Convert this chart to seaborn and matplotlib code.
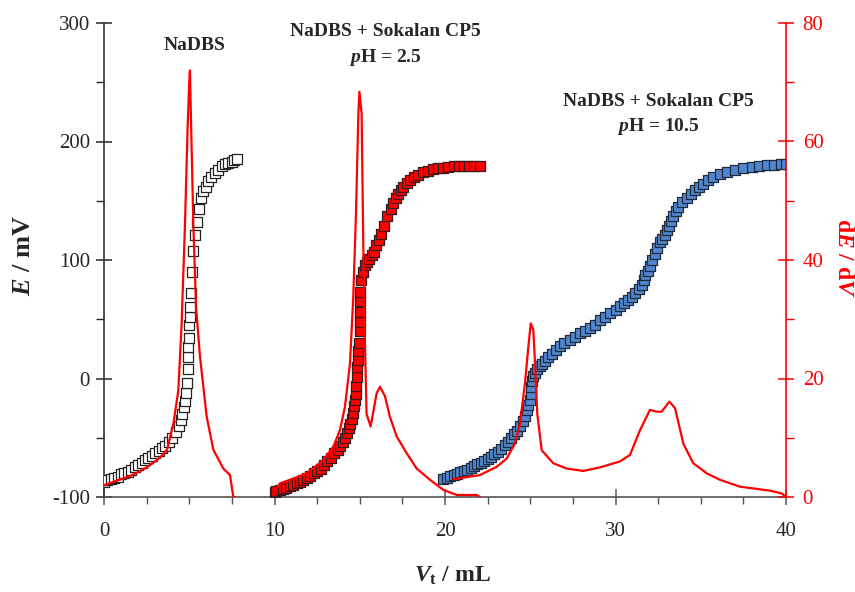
import matplotlib
matplotlib.use("Agg")
import matplotlib.pyplot as plt
import seaborn as sns
import pandas as pd
from matplotlib.ticker import MultipleLocator

# ---------------- data ----------------
v_nadbs = [0, 0.1, 0.2, 0.4, 0.6, 0.8, 1.0, 1.2, 1.4, 1.6, 1.8, 2.0, 2.2, 2.4, 2.6, 2.8,
           3.0, 3.2, 3.4, 3.6, 3.8, 4.0, 4.2, 4.4, 4.5, 4.6, 4.7, 4.75, 4.8, 4.85, 4.9,
           4.92, 4.95, 4.97, 5.0, 5.02, 5.05, 5.1, 5.18, 5.24, 5.34, 5.44, 5.57, 5.7,
           5.83, 6.0, 6.12, 6.3, 6.5, 6.7, 6.9, 7.1, 7.29, 7.5, 7.65, 7.78]
e_nadbs = [-87, -86, -86, -85, -84, -83, -81, -80, -79, -77, -75, -73, -71, -69, -67, -65,
           -63, -61, -59, -57, -54, -50, -45, -40, -35, -30, -24, -19, -12, -4, 8,
           18, 27, 34, 45, 52, 60, 72, 90, 108, 121, 132, 143, 152, 158, 162, 167, 170,
           173, 176, 179, 181, 182, 183, 184, 185]

v_ph25 = [10.0, 10.1, 10.3, 10.5, 10.7, 10.9, 11.1, 11.3, 11.5, 11.7, 11.9, 12.1, 12.3, 12.5,
          12.7, 12.9, 13.1, 13.3, 13.5, 13.7, 13.85, 14.0, 14.13, 14.25, 14.35, 14.45, 14.52,
          14.6, 14.66, 14.72, 14.78, 14.8, 14.82, 14.85, 14.88, 14.92, 14.96, 15.0, 15.01,
          15.02, 15.02, 15.03, 15.07, 15.17, 15.31, 15.45, 15.56, 15.7, 15.84, 15.95, 16.1,
          16.23, 16.42, 16.62, 16.81, 16.97, 17.1, 17.26, 17.4, 17.55, 17.75, 17.95, 18.2,
          18.43, 18.7, 19.0, 19.3, 19.6, 19.9, 20.2, 20.5, 20.8, 21.1, 21.4, 21.7, 22.05]
e_ph25 = [-96, -95, -94, -93, -92, -91, -90, -88, -87, -85.5, -84, -82, -80, -78,
          -76, -73, -70, -67, -63, -60, -57, -54, -50, -46, -42, -38, -34,
          -29, -23, -18, -13, -6, 1, 10, 16, 23, 30, 40, 48,
          56, 65, 73, 83, 90, 96, 98, 101, 104, 107, 113, 117,
          122, 129, 137, 143, 148, 152, 156, 159, 162, 165, 167.5, 170,
          172, 174, 175.5, 176.5, 177.5, 178, 178.5, 179, 179.3, 179.5, 179.5, 179.6, 179.5]

v_ph105 = [19.9, 20.1, 20.3, 20.5, 20.7, 20.9, 21.1, 21.3, 21.5, 21.7, 21.9, 22.1, 22.3, 22.5,
           22.7, 22.9, 23.1, 23.3, 23.5, 23.7, 23.9, 24.05, 24.2, 24.4, 24.55, 24.69, 24.8,
           24.89, 24.97, 25.04, 25.06, 25.08, 25.15, 25.28, 25.4, 25.57, 25.7, 25.87, 26.05,
           26.26, 26.5, 26.74, 27.0, 27.33, 27.6, 27.92, 28.2, 28.5, 28.8, 29.09, 29.4, 29.68,
           30.0, 30.26, 30.5, 30.75, 30.95, 31.14, 31.35, 31.53, 31.65, 31.75, 31.9, 32.02,
           32.17, 32.32, 32.46, 32.61, 32.75, 32.9, 33.03, 33.16, 33.28, 33.39, 33.53, 33.68,
           33.9, 34.18, 34.4, 34.66, 34.9, 35.15, 35.45, 35.74, 36.1, 36.52, 37.0, 37.5, 38.0,
           38.4, 38.87, 39.3, 39.7, 40.0]
e_ph105 = [-85, -84, -82.5, -81.5, -80.5, -79, -78, -77, -75.5, -74, -72.5, -71, -69.5, -68,
           -66, -64, -62, -59.5, -56.5, -53.5, -50, -47, -44, -40, -36, -32, -27,
           -22, -18, -13, -7, -2, 2, 5, 8, 10.5, 12.5, 14.5, 18,
           21, 24, 27.5, 30, 32.5, 35, 38, 40, 42.5, 45.5, 49, 52, 55,
           58, 61, 63.5, 66, 69, 72, 75.5, 79, 83, 87, 91, 95,
           100, 105, 110, 115, 118, 121, 125, 128.5, 132.5, 137, 141, 145,
           149, 152.5, 156, 159, 162, 164.5, 167.5, 170, 172.5, 174.5, 176, 177.5, 178.5,
           179.5, 180, 180.5, 181, 181]

v_d_nadbs = [0, 0.5, 1.0, 1.5, 2.0, 2.5, 3.0, 3.4, 3.7, 4.07, 4.36, 4.55, 4.75, 4.9, 5.0, 5.04,
             5.1, 5.24, 5.4, 5.63, 6.02, 6.41, 7.0, 7.39, 7.58, 7.7]
d_nadbs = [2.0, 2.5, 3.0, 3.5, 4.2, 5.0, 6.0, 7.0, 8.0, 12.4, 18, 29, 46, 62, 70, 72,
           64, 46, 32, 23.7, 13.6, 8, 4.8, 3.7, 0.05, 0]

v_d_ph25 = [10.0, 10.32, 11.0, 11.89, 12.86, 13.45, 13.84, 14.13, 14.43, 14.62, 14.78, 14.92,
            14.98, 15.11, 15.21, 15.31, 15.4, 15.64, 15.99, 16.19, 16.48, 16.77, 17.17, 17.75,
            18.34, 19.12, 19.9, 20.69, 21.86, 22.05]
d_ph25 = [1.0, 2.3, 3.0, 4.0, 6.2, 8.5, 11.3, 15.2, 22.6, 33.8, 48, 64.8,
          68.4, 64.8, 42, 25.4, 14, 11.9, 17.5, 18.6, 17, 13.5, 10.2, 7.4,
          4.8, 2.9, 1.2, 0.34, 0.34, 0]

v_d_ph105 = [20.49, 22.05, 23.03, 23.62, 24.1, 24.4, 24.69, 24.89, 25.03, 25.18, 25.28, 25.41,
             25.67, 26.35, 27.14, 28.11, 29.09, 30.26, 30.85, 31.44, 32.02, 32.41, 32.71, 33.16,
             33.49, 33.98, 34.56, 35.35, 36.13, 37.3, 39.06, 39.75, 40.0]
d_ph105 = [3.0, 3.7, 5.1, 6.5, 9.0, 12.4, 19.2, 25.4, 29.3, 28.2, 22.6, 14.1,
           7.9, 5.7, 4.8, 4.4, 5.0, 6.0, 7.1, 11.3, 14.7, 14.4, 14.4, 16.1,
           15.0, 9.0, 5.7, 4.0, 2.9, 1.74, 1.07, 0.6, 0]

annot_texts = ["NaDBS", "NaDBS + Sokalan CP5", r"$\mathbfit{p}$H = 2.5",
               "NaDBS + Sokalan CP5", r"$\mathbfit{p}$H = 10.5"]

# ---------------- style ----------------
sns.set_style("ticks")
plt.rcParams["font.family"] = ["Liberation Serif", "DejaVu Serif"]
plt.rcParams["mathtext.fontset"] = "custom"
plt.rcParams["mathtext.rm"] = "Liberation Serif"
plt.rcParams["mathtext.it"] = "Liberation Serif:italic"
plt.rcParams["mathtext.bf"] = "Liberation Serif:bold"
plt.rcParams["mathtext.bfit"] = "Liberation Serif:italic:bold"
plt.rcParams["axes.unicode_minus"] = False

fig = plt.figure(figsize=(8.55, 5.92), dpi=100)
ax = fig.add_axes([104 / 855, 1 - 497 / 592, (786 - 104) / 855, (497 - 23) / 592])
ax2 = ax.twinx()

df1 = pd.DataFrame({"V": v_nadbs, "E": e_nadbs})
df2 = pd.DataFrame({"V": v_ph25, "E": e_ph25})
df3 = pd.DataFrame({"V": v_ph105, "E": e_ph105})

ms = 52
sns.scatterplot(data=df1, x="V", y="E", ax=ax, marker="s", s=ms, facecolor="white",
                edgecolor="#222222", linewidth=0.9, zorder=3)
sns.scatterplot(data=df2, x="V", y="E", ax=ax, marker="s", s=ms, color="#FF0000",
                edgecolor="#3a1a1a", linewidth=0.9, zorder=3)
sns.scatterplot(data=df3, x="V", y="E", ax=ax, marker="s", s=ms, color="#4F86CF",
                edgecolor="#1f2a3a", linewidth=0.9, zorder=3)

for vv, dd in [(v_d_nadbs, d_nadbs), (v_d_ph25, d_ph25), (v_d_ph105, d_ph105)]:
    sns.lineplot(x=vv, y=dd, ax=ax2, color="#FF0000", linewidth=1.6, sort=False,
                 estimator=None, zorder=4)

ax.set_xlim(0, 40)
ax.set_ylim(-100, 300)
ax2.set_ylim(0, 80)
ax.xaxis.set_major_locator(MultipleLocator(10))
ax.xaxis.set_minor_locator(MultipleLocator(2.5))
ax.yaxis.set_major_locator(MultipleLocator(100))
ax.yaxis.set_minor_locator(MultipleLocator(50))
ax2.yaxis.set_major_locator(MultipleLocator(20))
ax2.yaxis.set_minor_locator(MultipleLocator(10))

ax.spines["top"].set_visible(False)
ax2.spines["top"].set_visible(False)
ax.spines["right"].set_visible(False)
ax2.spines["left"].set_visible(False)
ax2.spines["bottom"].set_visible(False)
ax2.spines["right"].set_color("#FF0000")
ax.spines["bottom"].set_color("#555555")
ax.spines["left"].set_color("#333333")
for sp in ["bottom", "left"]:
    ax.spines[sp].set_linewidth(1.2)
ax2.spines["right"].set_linewidth(1.2)

ax.tick_params(axis="x", which="major", direction="inout", length=12, width=1.1,
               labelsize=15, pad=12, color="#555555")
ax.tick_params(axis="x", which="minor", direction="out", length=5, width=1.0, color="#555555")
ax.tick_params(axis="y", which="major", direction="inout", length=12, width=1.1,
               labelsize=15, pad=4)
ax.tick_params(axis="y", which="minor", direction="out", length=6, width=1.0)
ax2.tick_params(axis="y", which="major", direction="inout", length=12, width=1.1,
                labelsize=15, pad=6, colors="#FF0000")
ax2.tick_params(axis="y", which="minor", direction="out", length=6, width=1.0,
                colors="#FF0000")

ax.set_xlabel("")
ax.set_ylabel("")
ax2.set_ylabel("")
fig.text(452 / 855, 1 - 576 / 592, r"$\mathbfit{V}_{\mathbf{t}}$ / mL", ha="center",
         va="center", fontsize=17, fontweight="bold")
fig.text(24 / 855, 1 - 255 / 592, r"$\mathbfit{E}$ / mV", ha="center", va="center",
         fontsize=19, fontweight="bold", rotation=90)
fig.text(843 / 855, 1 - 258 / 592, r"d$\mathbfit{E}$ / d$\mathbfit{V}$", ha="center",
         va="center", fontsize=17, fontweight="bold", rotation=270, color="#FF0000")

fs = 14
fig.text(195 / 855, 1 - 45 / 592, annot_texts[0], ha="center", va="center",
         fontsize=fs, fontweight="bold")
fig.text(385 / 855, 1 - 31 / 592, annot_texts[1], ha="center", va="center",
         fontsize=fs, fontweight="bold")
fig.text(385 / 855, 1 - 57 / 592, annot_texts[2], ha="center", va="center",
         fontsize=fs, fontweight="bold")
fig.text(658 / 855, 1 - 101 / 592, annot_texts[3], ha="center", va="center",
         fontsize=fs, fontweight="bold")
fig.text(658 / 855, 1 - 127 / 592, annot_texts[4], ha="center", va="center",
         fontsize=fs, fontweight="bold")

fig.savefig("out.png", dpi=100)
